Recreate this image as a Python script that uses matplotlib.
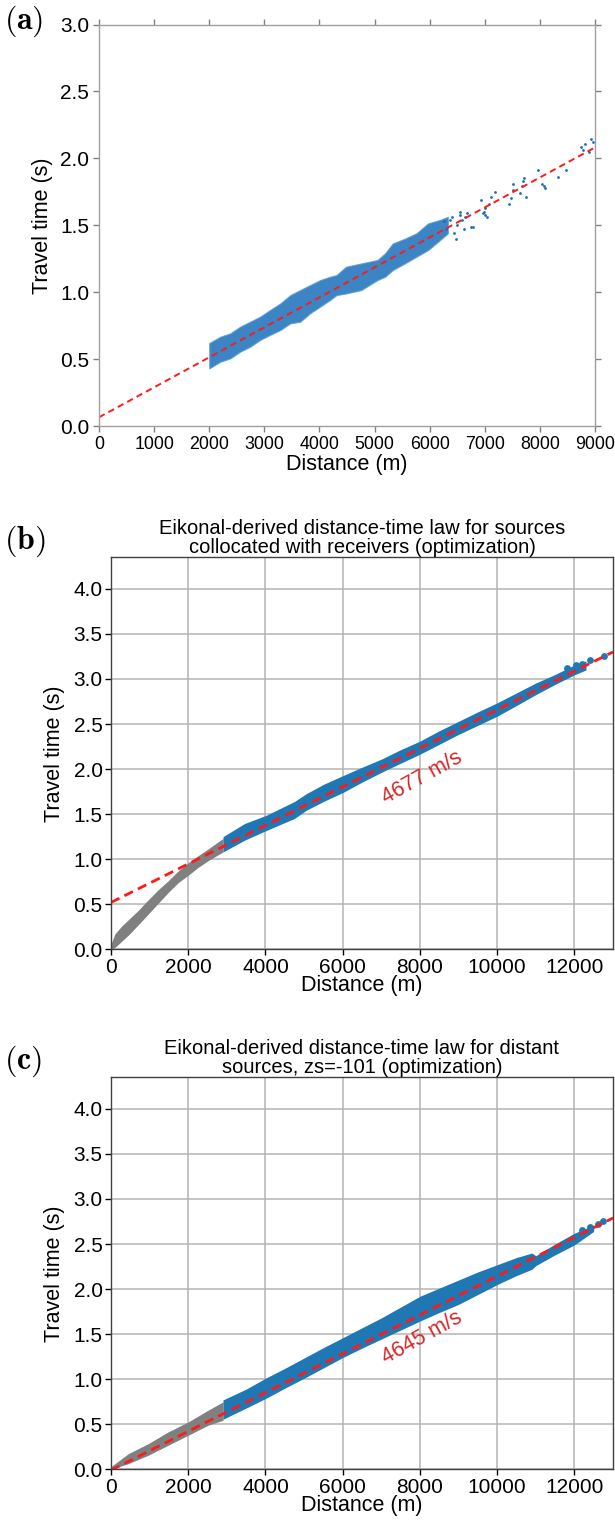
import numpy as np
import matplotlib
matplotlib.use("Agg")
import matplotlib.pyplot as plt

plt.rcParams['font.family'] = ['Liberation Sans', 'DejaVu Sans']
plt.rcParams['mathtext.fontset'] = 'cm'

# ---------------- data ----------------
# (a) picked first arrivals: dense cloud envelope + sparse far-offset picks
a_band_d = [2000, 2200, 2380, 2560, 2740, 2920, 3100, 3290, 3470, 3650, 3830, 4010,
            4190, 4310, 4480, 4760, 5050, 5190, 5330, 5550, 5760, 5970, 6190, 6330]
a_band_top = [0.62, 0.667, 0.692, 0.742, 0.779, 0.816, 0.866, 0.916, 0.978, 1.016, 1.053, 1.09,
              1.115, 1.128, 1.19, 1.215, 1.24, 1.29, 1.364, 1.40, 1.44, 1.514, 1.54, 1.563]
a_band_bot = [0.43, 0.48, 0.505, 0.555, 0.592, 0.642, 0.68, 0.717, 0.767, 0.779, 0.842, 0.891,
              0.941, 0.978, 0.99, 1.016, 1.09, 1.115, 1.165, 1.215, 1.265, 1.314, 1.39, 1.44]
a_pts_d = [6260, 6365, 6436, 6472, 6543, 6579, 6686, 6757, 6793, 6935, 6971, 7006, 7042, 7078,
           7113, 7185, 7434, 7470, 7506, 7648, 7684, 7720, 7755, 7969, 8040, 8076, 8325, 8468,
           8753, 8824, 8895, 8931, 6300, 6500, 6620, 6400, 6550, 6650, 6980, 7000, 7520,
           7700, 8100, 8780, 8960]
a_pts_t = [1.53, 1.54, 1.44, 1.40, 1.576, 1.54, 1.59, 1.49, 1.49, 1.69, 1.59, 1.626, 1.56, 1.66,
           1.71, 1.75, 1.66, 1.70, 1.81, 1.74, 1.79, 1.85, 1.71, 1.91, 1.81, 1.79, 1.86, 1.91,
           2.086, 2.11, 2.05, 2.148, 1.47, 1.50, 1.47, 1.56, 1.60, 1.56, 1.60, 1.58, 1.76,
           1.83, 1.78, 2.06, 2.12]
a_vel, a_t0 = 4464, 0.065

# (b) collocated sources
b_gray_d = [0, 100, 280, 480, 700, 920, 1220, 1480, 1740, 2000, 2260, 2520, 2900]
b_gray_top = [0.06, 0.17, 0.26, 0.34, 0.43, 0.53, 0.66, 0.76, 0.87, 0.96, 1.04, 1.115, 1.23]
b_gray_bot = [0.0, 0.02, 0.09, 0.17, 0.27, 0.37, 0.51, 0.63, 0.74, 0.822, 0.91, 0.985, 1.08]
b_blue_d = [2900, 3460, 4030, 4750, 5050, 5500, 6020, 6500, 7000, 7500, 8000, 8500, 9000,
            9500, 10000, 10500, 11000, 11500, 12000, 12300]
b_blue_top = [1.25, 1.396, 1.489, 1.64, 1.725, 1.83, 1.93, 2.02, 2.11, 2.215, 2.31, 2.425, 2.53,
              2.635, 2.735, 2.845, 2.955, 3.05, 3.155, 3.2]
b_blue_bot = [1.08, 1.211, 1.32, 1.452, 1.541, 1.64, 1.743, 1.855, 1.963, 2.065, 2.165, 2.275,
              2.385, 2.485, 2.587, 2.705, 2.826, 2.94, 3.046, 3.1]
b_end_d = [11800, 12050, 12200, 12400, 12760]
b_end_t = [3.12, 3.15, 3.17, 3.21, 3.25]
b_vel, b_t0 = 4677, 0.52

# (c) distant sources, zs=-101
c_gray_d = [0, 450, 965, 1480, 2000, 2515, 2900]
c_gray_top = [0.03, 0.174, 0.285, 0.415, 0.526, 0.656, 0.748]
c_gray_bot = [0.0, 0.063, 0.156, 0.267, 0.378, 0.489, 0.544]
c_blue_d = [2900, 3500, 4000, 4500, 5000, 5500, 6000, 6500, 7000, 7500, 8000, 8500, 9000,
            9500, 10000, 10500, 10900, 11000, 11500, 12000, 12500]
c_blue_top = [0.77, 0.89, 1.01, 1.12, 1.235, 1.35, 1.46, 1.57, 1.68, 1.80, 1.92, 2.01, 2.10,
              2.19, 2.27, 2.35, 2.40, 2.37, 2.50, 2.62, 2.71]
c_blue_bot = [0.555, 0.68, 0.785, 0.90, 1.01, 1.125, 1.24, 1.345, 1.445, 1.545, 1.645, 1.74,
              1.83, 1.94, 2.05, 2.15, 2.22, 2.26, 2.38, 2.49, 2.64]
c_end_d = [12200, 12400, 12600, 12750]
c_end_t = [2.66, 2.69, 2.72, 2.76]
c_vel, c_t0 = 4645, -0.01

title_b = "Eikonal-derived distance-time law for sources\ncollocated with receivers (optimization)"
title_c = "Eikonal-derived distance-time law for distant\nsources, zs=-101 (optimization)"

# ---------------- figure ----------------
W, H = 615, 1520
fig = plt.figure(figsize=(W / 100, H / 100), dpi=100)


def px_axes(left, right, top, bottom):
    return fig.add_axes([left / W, 1 - bottom / H, (right - left) / W, (bottom - top) / H])


blue_a = '#1a6fba'
blue = '#1f77b4'
gray = '#808080'
red = '#ff1a1a'
TICK = 15
LAB = 15.5

# ---- panel (a) ----
ax = px_axes(99, 595, 24.5, 426)
ax.fill_between(a_band_d, a_band_bot, a_band_top, color=blue_a, lw=0.8, alpha=0.85,
                edgecolor='#5a9bd5')
ax.scatter(a_pts_d, a_pts_t, s=4, color=blue_a, lw=0)
xl = np.array([0, 9000])
ax.plot(xl, a_t0 + xl / a_vel, color=red, lw=1.4, dashes=(3.3, 2.2))
ax.set_xlim(0, 9000)
ax.set_ylim(0, 3.0)
ax.set_xticks(range(0, 9001, 1000))
ax.set_yticks(np.arange(0, 3.01, 0.5))
ax.yaxis.set_major_formatter(matplotlib.ticker.FormatStrFormatter('%.1f'))
for s in ax.spines.values():
    s.set_color('#a0a0a0')
    s.set_linewidth(1.0)
ax.tick_params(axis='both', direction='out', length=4, width=1, color='#808080', pad=3)
ax.tick_params(axis='x', labelsize=12.8)
ax.tick_params(axis='y', labelsize=TICK)
ax.tick_params(axis='both', which='both', top=True, right=True)
ax.set_xlabel("Distance (m)", fontsize=LAB, labelpad=1)
ax.set_ylabel("Travel time (s)", fontsize=LAB, labelpad=5)
fig.text(4 / W, 1 - 21 / H, r'$\mathbf{(a)}$', fontsize=23, va='center', ha='left')


def eikonal_panel(top, gd, gt, gb, bd, bt, bbot, ed, et, vel, t0, label, title, letter, lt):
    ax = px_axes(111, 613, top, top + 392)
    ax.grid(True, color='#b4b4b4', lw=1.1)
    ax.set_axisbelow(True)
    ax.fill_between(gd, gb, gt, color=gray, lw=0)
    ax.fill_between(bd, bbot, bt, color=blue, lw=0)
    ax.scatter(ed, et, s=24, color=blue, lw=0)
    xl = np.array([0, 13000])
    ax.plot(xl, t0 + xl / vel, color=red, lw=2.0, dashes=(3.4, 2.0))
    ax.text(8050, lt, label, color='#d62728', fontsize=15.5, rotation=29,
            ha='center', va='center')
    ax.set_xlim(0, 13000)
    ax.set_ylim(0, 4.35)
    ax.set_xticks(range(0, 12001, 2000))
    ax.set_yticks(np.arange(0, 4.01, 0.5))
    ax.yaxis.set_major_formatter(matplotlib.ticker.FormatStrFormatter('%.1f'))
    for s in ax.spines.values():
        s.set_color('#404040')
        s.set_linewidth(1.0)
    ax.tick_params(direction='out', length=4, width=1, labelsize=TICK, pad=2)
    ax.set_xlabel("Distance (m)", fontsize=LAB, labelpad=-1)
    ax.set_ylabel("Travel time (s)", fontsize=LAB, labelpad=6)
    ax.set_title(title, fontsize=14.5, pad=3, linespacing=1.0)
    fig.text(4 / W, 1 - (top - 16) / H, letter, fontsize=23, va='center', ha='left')
    return ax


eikonal_panel(557.3, b_gray_d, b_gray_top, b_gray_bot, b_blue_d, b_blue_top, b_blue_bot,
              b_end_d, b_end_t, b_vel, b_t0, "4677 m/s", title_b, r'$\mathbf{(b)}$', 1.90)
eikonal_panel(1077.3, c_gray_d, c_gray_top, c_gray_bot, c_blue_d, c_blue_top, c_blue_bot,
              c_end_d, c_end_t, c_vel, c_t0, "4645 m/s", title_c, r'$\mathbf{(c)}$', 1.46)

fig.savefig("out.png", dpi=100)
